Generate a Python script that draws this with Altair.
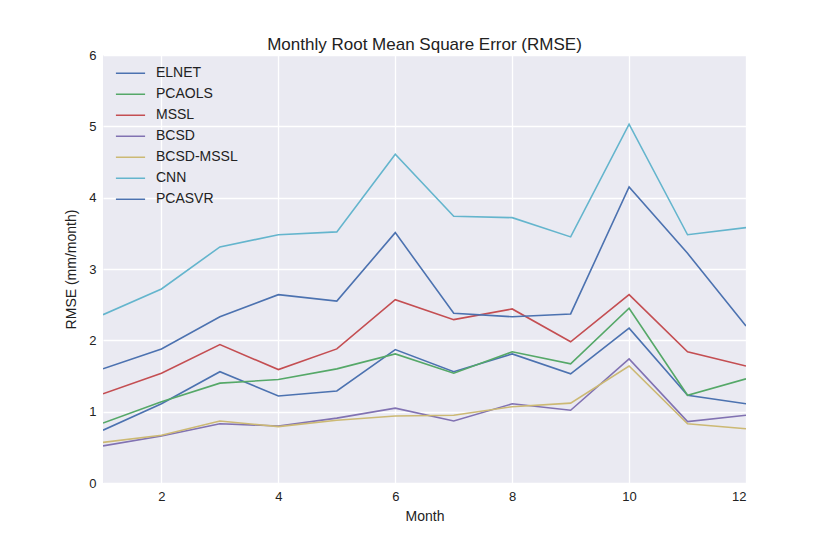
import altair as alt
import pandas as pd

months = list(range(1, 13))
series_names = ["ELNET", "PCAOLS", "MSSL", "BCSD", "BCSD-MSSL", "CNN", "PCASVR"]
colors = ["#4C72B0", "#55A868", "#C44E52", "#8172B2", "#CCB974", "#64B5CD", "#4C72B0"]

elnet = [0.74, 1.11, 1.56, 1.22, 1.29, 1.87, 1.56, 1.81, 1.53, 2.17, 1.23, 1.11]
pcaols = [0.84, 1.14, 1.40, 1.45, 1.60, 1.81, 1.54, 1.84, 1.67, 2.45, 1.23, 1.46]
mssl = [1.25, 1.54, 1.94, 1.59, 1.88, 2.57, 2.29, 2.44, 1.98, 2.64, 1.84, 1.64]
bcsd = [0.52, 0.66, 0.83, 0.80, 0.91, 1.05, 0.87, 1.11, 1.02, 1.74, 0.86, 0.95]
bcsd_mssl = [0.57, 0.67, 0.87, 0.79, 0.88, 0.94, 0.95, 1.07, 1.12, 1.64, 0.83, 0.76]
cnn = [2.36, 2.72, 3.31, 3.48, 3.52, 4.61, 3.74, 3.72, 3.45, 5.03, 3.48, 3.58]
pcasvr = [1.60, 1.88, 2.33, 2.64, 2.55, 3.51, 2.38, 2.33, 2.37, 4.15, 3.22, 2.20]

all_series = [elnet, pcaols, mssl, bcsd, bcsd_mssl, cnn, pcasvr]
rows = []
for name, vals in zip(series_names, all_series):
    for m, v in zip(months, vals):
        rows.append({"Month": m, "RMSE": v, "Model": name})
df = pd.DataFrame(rows)

FONT = "Liberation Sans"

chart = alt.Chart(df).mark_line(strokeWidth=1.6, clip=True).encode(
    x=alt.X("Month:Q", scale=alt.Scale(domain=[1, 12], nice=False, zero=False),
            axis=alt.Axis(values=[2, 4, 6, 8, 10, 12], title="Month")),
    y=alt.Y("RMSE:Q", scale=alt.Scale(domain=[0, 6], nice=False),
            axis=alt.Axis(values=[0, 1, 2, 3, 4, 5, 6], title="RMSE (mm/month)")),
    color=alt.Color("Model:N", scale=alt.Scale(domain=series_names, range=colors),
                    sort=series_names,
                    legend=alt.Legend(title=None, orient="none", legendX=12, legendY=8,
                                      symbolType="stroke", symbolSize=850,
                                      symbolStrokeWidth=1.6, labelFontSize=14,
                                      labelFont=FONT, labelColor="#222222",
                                      rowPadding=0, clipHeight=20.4, labelOffset=10)),
    detail="Model:N",
).properties(
    width=643, height=428,
    title=alt.TitleParams("Monthly Root Mean Square Error (RMSE)", fontSize=17,
                          font=FONT, fontWeight="normal", color="#222222", offset=-5),
    background="white",
    autosize=alt.AutoSizeParams(type="none"),
    padding={"left": 95, "top": 47, "right": 70, "bottom": 60},
).configure_view(
    fill="#EAEAF2", stroke=None
).configure_axis(
    grid=True, gridColor="white", gridWidth=1.3, domain=False, ticks=False,
    labelFont=FONT, labelFontSize=13, labelColor="#222222", labelPadding=7,
    titleFont=FONT, titleFontSize=14, titleFontWeight="normal", titleColor="#222222",
).configure_axisY(titlePadding=10).configure_axisX(titlePadding=6)

chart.save("out.html", embed_options={"renderer": "svg", "actions": False})
